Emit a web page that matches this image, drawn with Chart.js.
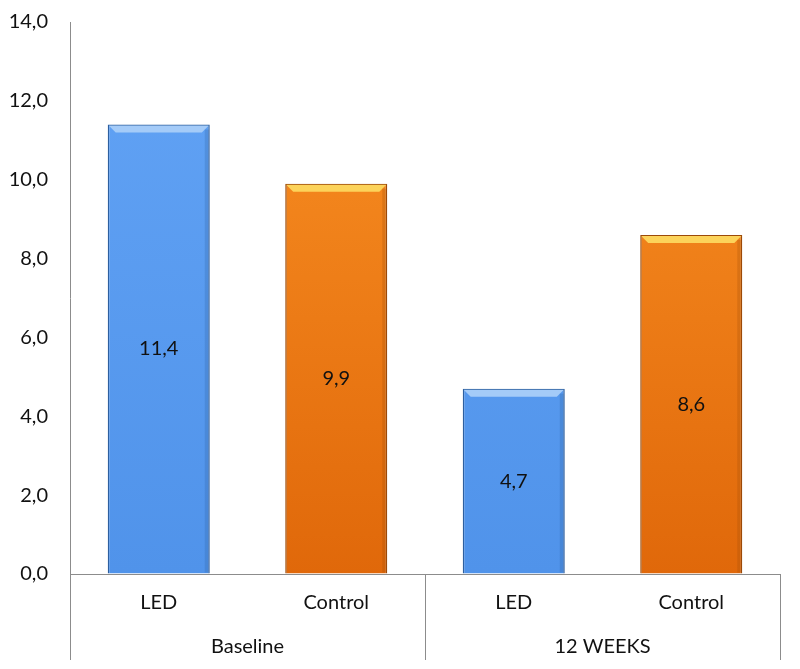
<!DOCTYPE html>
<html>
<head>
<meta charset="utf-8">
<script src="https://cdn.jsdelivr.net/npm/chart.js@4/dist/chart.umd.min.js"></script>
<style>
  html, body { margin: 0; padding: 0; background: #fff; }
  #wrap { width: 800px; height: 669px; }
</style>
</head>
<body>
<div id="wrap"><canvas id="chart"></canvas></div>
<script>
const categories = ['LED', 'Control', 'LED', 'Control'];
const groups = ['Baseline', '12 WEEKS'];
const values = [11.4, 9.9, 4.7, 8.6];
const yTicks = [0, 2, 4, 6, 8, 10, 12, 14];

const blue = { top: '#62a3f5', bottom: '#5093ea', edge: '#2d5f9f', bevel: '#a4cbf8' };
const orange = { top: '#fa9124', bottom: '#e0680a', edge: '#9c4a08', bevel: '#fcd35a' };
const palette = [blue, orange, blue, orange];

const fmt = v => v.toFixed(1).replace('.', ',');
const font = { family: 'Lato, "Open Sans", sans-serif', size: 20 };

function barFill(ctx) {
  const chart = ctx.chart;
  const area = chart.chartArea;
  const p = palette[ctx.dataIndex];
  if (!area) return p.top;
  const g = chart.ctx.createLinearGradient(0, area.top, 0, area.bottom);
  g.addColorStop(0, p.top);
  g.addColorStop(1, p.bottom);
  return g;
}

// bevel top + data labels inside bars
const barDecor = {
  id: 'barDecor',
  afterDatasetsDraw(chart) {
    const c = chart.ctx;
    const meta = chart.getDatasetMeta(0);
    meta.data.forEach((bar, i) => {
      const p = palette[i];
      const left = bar.x - bar.width / 2;
      const right = bar.x + bar.width / 2;
      const b = 8;
      c.save();
      c.fillStyle = p.bevel;
      c.beginPath();
      c.moveTo(left + 1, bar.y + 1);
      c.lineTo(right - 1, bar.y + 1);
      c.lineTo(right - b, bar.y + b);
      c.lineTo(left + b, bar.y + b);
      c.closePath();
      c.fill();
      c.globalAlpha = 0.25;
      c.fillStyle = p.edge;
      c.fillRect(right - 5, bar.y + 5, 4, bar.base - bar.y - 6);
      c.restore();

      c.save();
      c.font = `${font.size}px ${font.family}`;
      c.fillStyle = '#111';
      c.textAlign = 'center';
      c.textBaseline = 'middle';
      c.fillText(fmt(values[i]), bar.x, (bar.y + bar.base) / 2);
      c.restore();
    });
  }
};

// vertical separators between groups in the axis area
const groupLines = {
  id: 'groupLines',
  afterDraw(chart) {
    const x = chart.scales.x;
    const x2 = chart.scales.x2;
    const c = chart.ctx;
    const step = x.getPixelForValue(1) - x.getPixelForValue(0);
    const cuts = [x.getPixelForValue(0) - step / 2, x.getPixelForValue(1) + step / 2, x.getPixelForValue(3) + step / 2];
    c.save();
    c.strokeStyle = '#8c8c8c';
    c.lineWidth = 1;
    cuts.forEach(px => {
      c.beginPath();
      c.moveTo(Math.round(px) + 0.5, chart.chartArea.bottom);
      c.lineTo(Math.round(px) + 0.5, x2.bottom);
      c.stroke();
    });
    c.restore();
  }
};

new Chart(document.getElementById('chart'), {
  type: 'bar',
  data: {
    labels: categories,
    datasets: [{
      data: values,
      backgroundColor: barFill,
      borderColor: values.map((v, i) => palette[i].edge),
      borderWidth: 1.5,
      categoryPercentage: 1,
      barPercentage: 0.575
    }]
  },
  options: {
    responsive: true,
    maintainAspectRatio: false,
    animation: false,
    layout: { padding: { top: 22, right: 20, bottom: 9, left: 10 } },
    plugins: { legend: { display: false }, tooltip: { enabled: false } },
    scales: {
      x: {
        grid: { display: false, drawTicks: false },
        border: { display: true, color: '#8c8c8c', width: 1 },
        ticks: { color: '#111', font: font, padding: 17 },
        afterFit: axis => { axis.height = 48; }
      },
      x2: {
        type: 'category',
        labels: groups,
        position: 'bottom',
        offset: true,
        grid: { display: false, drawTicks: false },
        border: { display: false },
        ticks: { color: '#111', font: font, padding: 13 },
        afterFit: axis => { axis.height = 38; }
      },
      y: {
        min: 0,
        max: 14,
        afterBuildTicks: axis => { axis.ticks = yTicks.map(v => ({ value: v })); },
        grid: { display: true, drawOnChartArea: false, drawTicks: true, tickLength: 22, tickColor: 'rgba(0,0,0,0)' },
        border: { display: true, color: '#8c8c8c', width: 1 },
        ticks: { color: '#111', font: font, padding: 0, callback: v => fmt(v) },
        afterFit: axis => { axis.width = 60; }
      }
    }
  },
  plugins: [barDecor, groupLines]
});
</script>
</body>
</html>
